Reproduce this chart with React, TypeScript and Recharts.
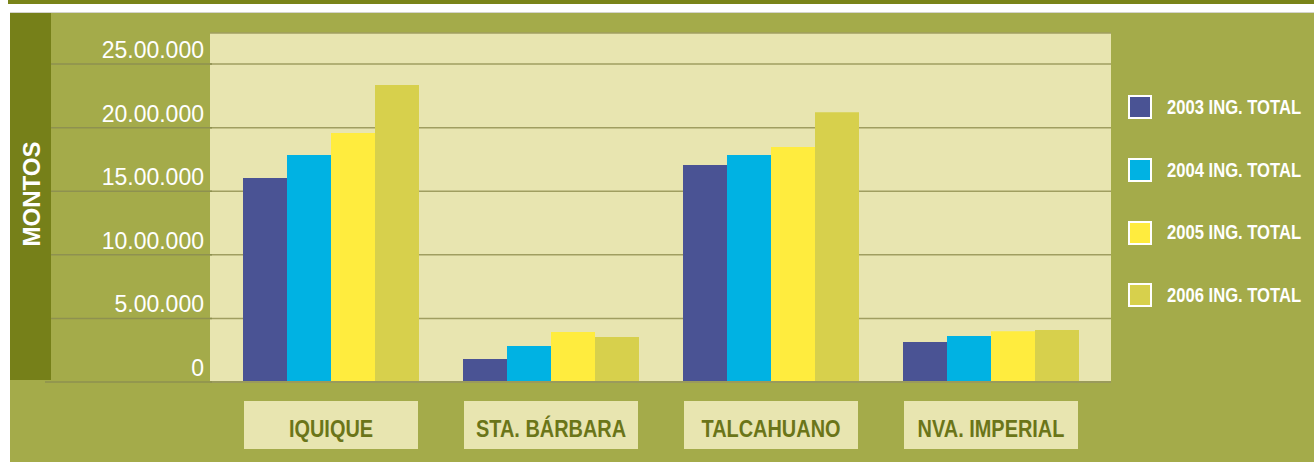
import React from 'react';
import { BarChart, Bar, XAxis, YAxis, CartesianGrid } from 'recharts';

const categories = ['IQUIQUE', 'STA. BÁRBARA', 'TALCAHUANO', 'NVA. IMPERIAL'];
const ing2003 = [1604000, 180000, 1706000, 314000];
const ing2004 = [1785000, 283000, 1785000, 362000];
const ing2005 = [1958000, 393000, 1847000, 400000];
const ing2006 = [2335000, 354000, 2120000, 409000];

const seriesNames = ['2003 ING. TOTAL', '2004 ING. TOTAL', '2005 ING. TOTAL', '2006 ING. TOTAL'];
const seriesColors = ['#4A5394', '#00B2E3', '#FFEC3E', '#D7D04C'];

const yTicks = [0, 500000, 1000000, 1500000, 2000000, 2500000];
const yTickLabels = ['0', '5.00.000', '10.00.000', '15.00.000', '20.00.000', '25.00.000'];

const data = categories.map((name, i) => ({
  name,
  s2003: ing2003[i],
  s2004: ing2004[i],
  s2005: ing2005[i],
  s2006: ing2006[i],
}));
const keys = ['s2003', 's2004', 's2005', 's2006'];

const sans = "'Liberation Sans', Arial, sans-serif";
const NARROW = 0.83;

const YTick = (props: any) => {
  const { x, y, payload, index } = props;
  return (
    <g>
      <line x1={index === 0 ? 45 : 51} x2={x + 2} y1={y} y2={y} stroke="#8E9150" strokeWidth={1.5} />
      <text x={x - 6} y={y - 6} textAnchor="end" fill="#fff" fontSize={23} fontFamily={sans}>
        {yTickLabels[yTicks.indexOf(payload.value)]}
      </text>
    </g>
  );
};

const XTick = (props: any) => {
  const { x, y, payload } = props;
  return (
    <g>
      <rect x={x - 87} y={y + 19} width={174} height={48} fill="#E8E5B0" />
      <text
        transform={`translate(${x},${y + 55}) scale(${NARROW},1)`}
        textAnchor="middle"
        fill="#6B7519"
        fontSize={24}
        fontWeight="bold"
        fontFamily={sans}
      >
        {payload.value}
      </text>
    </g>
  );
};

const LegendBox = () => (
  <div style={{ position: 'absolute', left: 1128, top: 76, display: 'flex', flexDirection: 'column' }}>
    {seriesNames.map((n, i) => (
      <div key={n} style={{ display: 'flex', alignItems: 'center', height: 62.7 }}>
        <div
          style={{
            width: 20,
            height: 20,
            background: seriesColors[i],
            border: '2px solid #fff',
            marginRight: 15,
            flex: 'none',
          }}
        />
        <span
          style={{
            color: '#fff',
            fontFamily: sans,
            fontWeight: 'bold',
            fontSize: 20,
            whiteSpace: 'nowrap',
            display: 'inline-block',
            transform: `scaleX(${NARROW})`,
            transformOrigin: 'left center',
          }}
        >
          {n}
        </span>
      </div>
    ))}
  </div>
);

export default function App() {
  return (
    <div style={{ position: 'absolute', left: 0, top: 0, width: 1314, height: 462, background: '#fff', overflow: 'hidden' }}>
      <div style={{ position: 'absolute', left: 8, top: 0, width: 1306, height: 4, background: '#7A8419' }} />
      <div style={{ position: 'absolute', left: 10, top: 12, width: 1304, height: 1, background: '#D4D4CC' }} />
      <div style={{ position: 'absolute', left: 10, top: 13, width: 1304, height: 449, background: '#A4AB4A' }} />
      <div style={{ position: 'absolute', left: 10, top: 13, width: 41, height: 367, background: '#768019' }} />
      <svg style={{ position: 'absolute', left: 0, top: 0 }} width={60} height={400}>
        <text x={40} y={194} transform="rotate(-90 40 194)" textAnchor="middle" fill="#fff" fontSize={24} fontWeight="bold" fontFamily={sans}>
          MONTOS
        </text>
      </svg>
      <div style={{ position: 'absolute', left: 0, top: 0 }}>
        <BarChart
          width={1314}
          height={462}
          data={data}
          margin={{ top: 33, right: 203, bottom: 0, left: 50 }}
          barGap={0}
          barSize={44}
        >
          <CartesianGrid vertical={false} fill="#E8E5B0" stroke="#A09E60" strokeWidth={1.5} />
          <XAxis
            dataKey="name"
            height={80}
            padding={{ left: 11, right: 10 }}
            tickLine={false}
            tickSize={0}
            tickMargin={0}
            axisLine={{ stroke: '#9A9A5C', strokeWidth: 2 }}
            tick={<XTick />}
            interval={0}
          />
          <YAxis
            width={160}
            domain={[0, 2744000]}
            ticks={yTicks}
            axisLine={false}
            tickLine={false}
            tickSize={0}
            tickMargin={0}
            tick={<YTick />}
            interval={0}
          />
          {keys.map((k, i) => (
            <Bar key={k} dataKey={k} name={seriesNames[i]} fill={seriesColors[i]} isAnimationActive={false} />
          ))}
        </BarChart>
      </div>
      <LegendBox />
    </div>
  );
}
